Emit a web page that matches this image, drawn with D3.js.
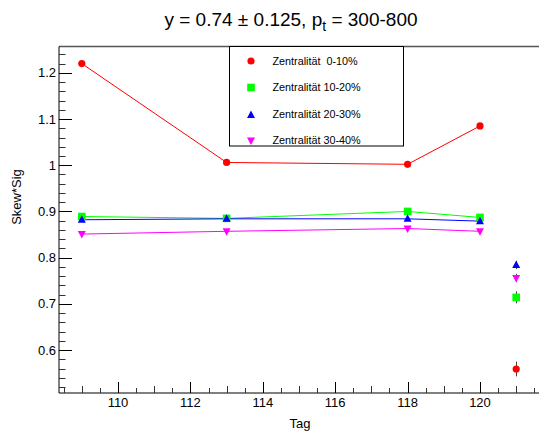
<!DOCTYPE html>
<html><head><meta charset="utf-8">
<script src="https://cdn.jsdelivr.net/npm/d3@7"></script>
<style>body{margin:0;background:#fff}svg{display:block;font-family:"Liberation Sans",Arial,sans-serif}</style>
</head><body><svg id="c" width="539" height="435"></svg>
<script>
const tags = [109, 113, 118, 120];
const seriesNames = ["Zentralität\u00a0\u00a00-10%", "Zentralität 10-20%", "Zentralität 20-30%", "Zentralität 30-40%"];
const colors = ["#ff0000", "#00ff00", "#0000ff", "#ff00ff"];
const shapes = ["circle", "square", "triangle", "triangleDown"];
const val0 = [1.220, 1.006, 1.002, 1.085];
const val1 = [0.889, 0.885, 0.900, 0.887];
const val2 = [0.882, 0.884, 0.884, 0.879];
const val3 = [0.851, 0.857, 0.863, 0.857];
const extraTag = 121;
const extraVals = [0.559, 0.714, 0.784, 0.756];
const extraErr = [0.016, 0.013, 0.009, 0.009];
const yTicks = [0.6, 0.7, 0.8, 0.9, 1, 1.1, 1.2];
const xTicks = [110, 112, 114, 116, 118, 120];
const series = [val0, val1, val2, val3];

const svg = d3.select("#c");
const L = 59, R = 539, T = 46.5, B = 393;
const x = d3.scaleLinear().domain([108.37, 121.63]).range([L, R]);
const y = d3.scaleLinear().domain([0.507, 1.257]).range([B, T]);

// frame top
svg.append("line").attr("x1", L).attr("x2", R).attr("y1", T).attr("y2", T).attr("stroke", "#555").attr("stroke-width", 1.5);

// y axis
const gy = svg.append("g");
gy.append("line").attr("x1", L).attr("x2", L).attr("y1", T).attr("y2", B).attr("stroke", "#000");
const yMinor = d3.range(0, 40).map(i => 0.52 + i * 0.02).filter(v => v <= 1.255 && v >= 0.51);
gy.selectAll(".ymin").data(yMinor).enter().append("line")
  .attr("x1", L).attr("x2", L + 6.5).attr("y1", d => Math.round(y(d)) + 0.5).attr("y2", d => Math.round(y(d)) + 0.5).attr("stroke", "#333");
gy.selectAll(".ymaj").data(yTicks).enter().append("line")
  .attr("x1", L).attr("x2", L + 13).attr("y1", d => Math.round(y(d)) + 0.5).attr("y2", d => Math.round(y(d)) + 0.5).attr("stroke", "#000");
gy.selectAll(".ylab").data(yTicks).enter().append("text")
  .attr("x", L - 3).attr("y", d => y(d) + 4.5).attr("text-anchor", "end").attr("font-size", 13).text(d => d3.format("")(+d.toFixed(1)));

// x axis
const gx = svg.append("g");
gx.append("line").attr("x1", L).attr("x2", R).attr("y1", B).attr("y2", B).attr("stroke", "#000");
const xMinor = d3.range(108.5, 121.6, 0.5);
gx.selectAll(".xmin").data(xMinor).enter().append("line")
  .attr("x1", d => Math.round(x(d)) + 0.5).attr("x2", d => Math.round(x(d)) + 0.5)
  .attr("y1", B).attr("y2", d => B - (Number.isInteger(d) ? 7 : 5)).attr("stroke", "#333");
gx.selectAll(".xmaj").data(xTicks).enter().append("line")
  .attr("x1", d => Math.round(x(d)) + 0.5).attr("x2", d => Math.round(x(d)) + 0.5)
  .attr("y1", B).attr("y2", B - 11).attr("stroke", "#000");
gx.selectAll(".xlab").data(xTicks).enter().append("text")
  .attr("x", d => x(d)).attr("y", 407).attr("text-anchor", "middle").attr("font-size", 13).text(d => d);

// axis titles
svg.append("text").attr("x", 300).attr("y", 428).attr("text-anchor", "middle").attr("font-size", 13).text("Tag");
svg.append("text").attr("transform", "translate(21,197) rotate(-90)").attr("text-anchor", "middle").attr("font-size", 13).text("Skew*Sig");

// title
const t = svg.append("text").attr("x", 291).attr("y", 26).attr("text-anchor", "middle").attr("font-size", 19);
t.append("tspan").text("y = 0.74 \u00b1 0.125, p");
t.append("tspan").attr("dy", 5).attr("font-size", 14).text("t");
t.append("tspan").attr("dy", -5).text(" = 300-800");

function marker(g, shape, color, cx, cy) {
  if (shape === "circle") g.append("circle").attr("cx", cx).attr("cy", cy).attr("r", 3.6).attr("fill", color);
  else if (shape === "square") g.append("rect").attr("x", cx - 3.8).attr("y", cy - 3.8).attr("width", 7.6).attr("height", 7.6).attr("fill", color);
  else if (shape === "triangle") g.append("path").attr("d", `M${cx},${cy - 4.5}L${cx + 4},${cy + 3}L${cx - 4},${cy + 3}Z`).attr("fill", color);
  else g.append("path").attr("d", `M${cx},${cy + 4.5}L${cx + 4},${cy - 3}L${cx - 4},${cy - 3}Z`).attr("fill", color);
}

const line = d3.line().x((d, i) => x(tags[i])).y(d => y(d));
const plot = svg.append("g");
[1, 2, 3, 0].forEach(s => {
  plot.append("path").attr("d", line(series[s])).attr("fill", "none").attr("stroke", colors[s]).attr("stroke-width", 1);
});
[1, 2, 3, 0].forEach(s => {
  series[s].forEach((v, i) => marker(plot, shapes[s], colors[s], x(tags[i]), y(v)));
});
extraVals.forEach((v, s) => {
  const cx = Math.round(x(extraTag)) + 0.5;
  plot.append("line").attr("x1", cx).attr("x2", cx).attr("y1", y(v - extraErr[s])).attr("y2", y(v + extraErr[s])).attr("stroke", "#444");
  marker(plot, shapes[s], colors[s], x(extraTag), y(v));
});

// legend
const lg = svg.append("g");
lg.append("rect").attr("x", 229.5).attr("y", 46.5).attr("width", 174).attr("height", 99.5).attr("fill", "#fff").attr("stroke", "#000");
const rowsY = [61, 87.5, 114.5, 140];
seriesNames.forEach((n, s) => {
  marker(lg, shapes[s], colors[s], 251, rowsY[s] + (s >= 2 ? 0.5 : 0));
  lg.append("text").attr("x", 272.5).attr("y", rowsY[s] + 3.8).attr("font-size", 10.8).text(n);
});
</script></body></html>
